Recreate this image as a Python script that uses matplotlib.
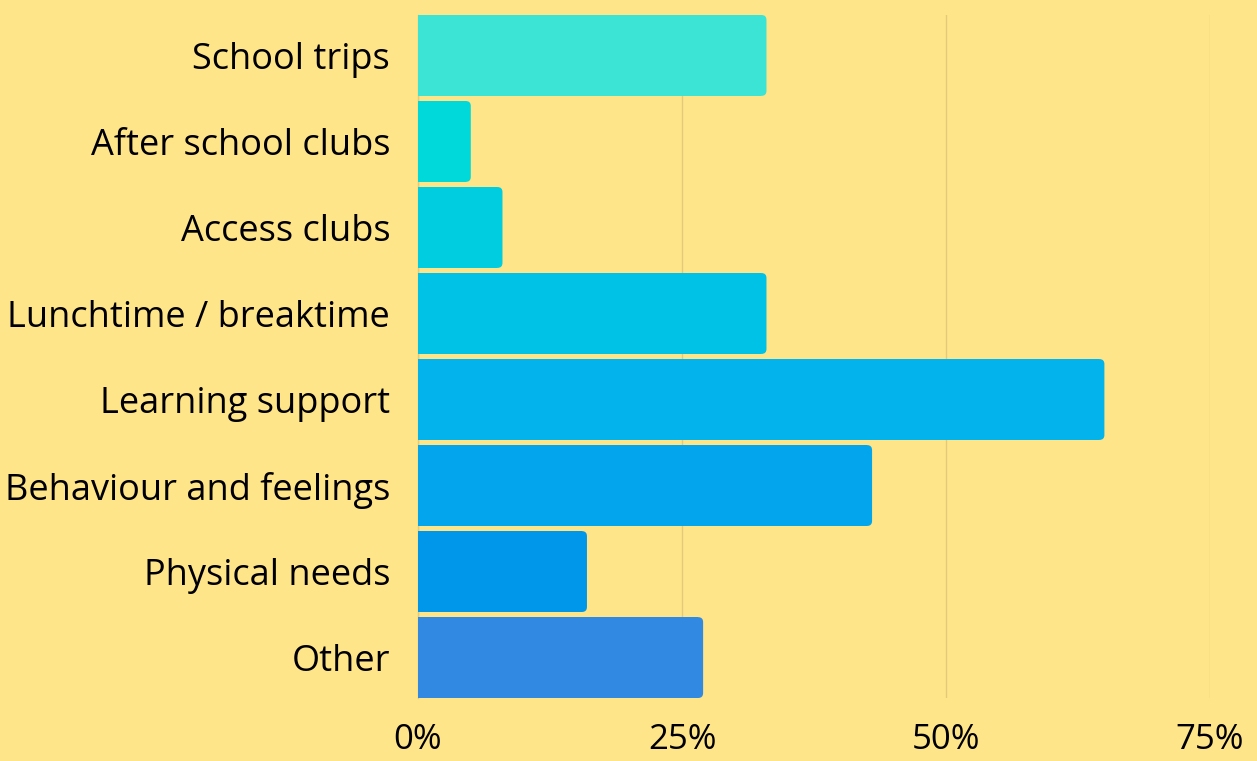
#---Import useful libraries---
import matplotlib
matplotlib.use("Agg")
import matplotlib.pyplot as plt
from matplotlib.patches import FancyBboxPatch, Rectangle
from matplotlib import font_manager


#---Chart data---
categories = ["School trips", "After school clubs", "Access clubs",
              "Lunchtime / breaktime", "Learning support",
              "Behaviour and feelings", "Physical needs", "Other"]
values = [33, 5, 8, 33, 65, 43, 16, 27]  #percent of respondents
bar_colours = ["#3BE4D5", "#00D9DA", "#00CEE0", "#00C2E6",
               "#03B3EC", "#03A6EC", "#0097EA", "#3289E2"]
x_ticks = [0, 25, 50, 75]
x_tick_labels = ["0%", "25%", "50%", "75%"]

bg = "#FFE58A"
grid_col = "#E3CA7A"

#Use a narrow face for the tick numbers if one is installed.
names = {f.name for f in font_manager.fontManager.ttflist}
tick_font = "Liberation Sans Narrow" if "Liberation Sans Narrow" in names else "Open Sans"
plt.rcParams['font.family'] = ["Open Sans", "DejaVu Sans"]


#---Set up the figure---
fig = plt.figure(figsize=(12.57, 7.61), dpi=100, facecolor=bg)
ax = fig.add_axes([418/1257, 1 - 698/761, 792/1257, 683/761])
ax.set_facecolor(bg)

ypos = list(range(len(categories)))
bars = ax.barh(ypos, values, height=0.94, color=bar_colours)

#Swap the plain bars for ones with rounded right-hand corners.
r_px_x = 5 / (792 / 75)   #corner radius in x data units
r_px_y = 5 / (683 / 7.94) #corner radius in y data units
for b, c in zip(bars, bar_colours):
    b.set_visible(False)
    x0, y0, w, h = b.get_x(), b.get_y(), b.get_width(), b.get_height()
    rounded = FancyBboxPatch((x0, y0), w, h,
                             boxstyle="round,pad=0,rounding_size=%f" % r_px_x,
                             mutation_aspect=r_px_y / r_px_x,
                             facecolor=c, edgecolor="none", zorder=3)
    ax.add_patch(rounded)
    ax.add_patch(Rectangle((x0, y0), w - r_px_x, h, facecolor=c,
                           edgecolor="none", zorder=3))

ax.set_xlim(0, 75)
ax.set_ylim(7.47, -0.47)

ax.set_yticks(ypos)
ax.set_yticklabels(categories, fontsize=26, color="#000000")
ax.set_xticks(x_ticks)
ax.set_xticklabels(x_tick_labels, fontsize=25, color="#000000",
                   family=[tick_font, "DejaVu Sans"])
ax.tick_params(axis="y", length=0, pad=20)
ax.tick_params(axis="x", length=0, pad=18)

ax.grid(axis="x", color=grid_col, linewidth=1, zorder=0)
ax.set_axisbelow(True)
for side in ["top", "right", "bottom"]:
    ax.spines[side].set_visible(False)
ax.spines["left"].set_color(grid_col)
ax.spines["left"].set_linewidth(1)

fig.savefig("out.png", dpi=100, facecolor=bg)
